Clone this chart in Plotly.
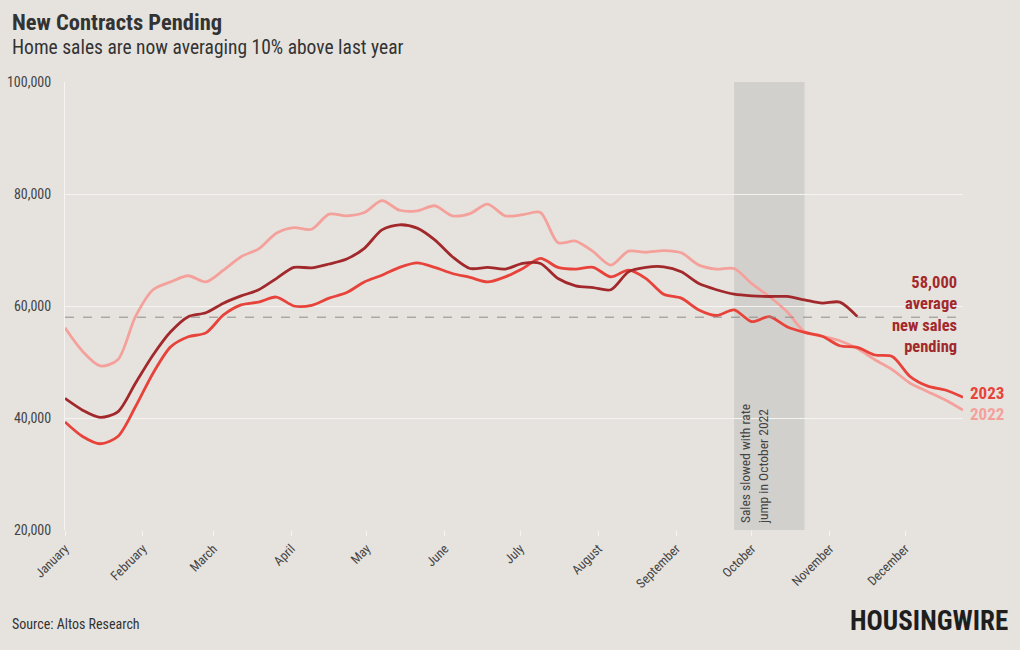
import pandas as pd
import plotly.graph_objects as go

# ---- data (thousands of pending contracts, weekly) ----
weeks = pd.date_range("2023-01-01", periods=52, freq="7D")

y2022 = [56.1, 51.9, 49.3, 50.4, 58.1, 62.9, 64.3, 65.4, 64.3, 66.4, 68.8, 70.2,
         73.0, 74.0, 73.7, 76.4, 76.1, 76.7, 78.8, 77.1, 77.0, 77.9, 76.1, 76.5,
         78.2, 76.1, 76.3, 76.7, 71.3, 71.6, 69.7, 67.3, 69.8, 69.6, 69.9, 69.5,
         67.3, 66.6, 66.7, 64.0, 61.7, 59.0, 55.4, 54.6, 53.8, 52.4, 50.4, 48.6,
         46.2, 44.7, 43.2, 41.4]

y2023 = [39.3, 36.7, 35.4, 36.7, 42.0, 48.0, 52.7, 54.5, 55.2, 58.4, 60.2, 60.7,
         61.6, 60.0, 60.1, 61.4, 62.4, 64.3, 65.5, 66.9, 67.7, 66.9, 65.8, 65.1,
         64.3, 65.2, 66.7, 68.5, 66.9, 66.6, 66.9, 65.2, 66.4, 64.9, 62.1, 61.4,
         59.3, 58.3, 59.3, 57.2, 58.1, 56.3, 55.3, 54.6, 52.9, 52.6, 51.25, 50.95,
         47.4, 45.7, 45.0, 43.7]

y2024 = [43.5, 41.4, 40.1, 41.1, 46.2, 51.25, 55.4, 58.1, 58.8, 60.5, 61.8, 62.9,
         64.9, 66.9, 66.8, 67.5, 68.4, 70.3, 73.6, 74.5, 73.9, 71.8, 68.8, 66.7,
         66.9, 66.6, 67.6, 67.6, 64.9, 63.6, 63.3, 62.9, 66.1, 66.9, 67.0, 66.1,
         64.0, 62.9, 62.1, 61.8, 61.7, 61.7, 61.1, 60.5, 60.7, 58.1]

average_pending = 58000
shade_start, shade_end = "2023-09-24", "2023-10-22"
y_ticks = [20000, 40000, 60000, 80000, 100000]

# ---- styling ----
BG = "#e6e3df"
PINK = "#f5a19b"
RED = "#e8433b"
DARK = "#a2292b"
FONT = "Roboto Condensed, Liberation Sans Narrow, Arial Narrow, Roboto, sans-serif"

fig = go.Figure()

fig.add_vrect(x0=shade_start, x1=shade_end, fillcolor="#d2d0cd", opacity=1,
              line_width=0, layer="below")

for name, vals, color in [("2022", y2022, PINK), ("2023", y2023, RED), ("2024", y2024, DARK)]:
    fig.add_trace(go.Scatter(
        x=weeks[:len(vals)], y=[v * 1000 for v in vals], mode="lines", name=name,
        line=dict(color=color, width=2.8, shape="spline", smoothing=0.8),
        hoverinfo="x+y"))

fig.add_hline(y=average_pending, line=dict(color="#8f8c89", width=1, dash="dash"))

# end labels
fig.add_annotation(x=weeks[-1], y=y2023[-1] * 1000, text="<b>2023</b>", showarrow=False,
                   xanchor="left", xshift=5, yshift=4, font=dict(color=RED, size=17, family=FONT))
fig.add_annotation(x=weeks[-1], y=y2022[-1] * 1000, text="<b>2022</b>", showarrow=False,
                   xanchor="left", xshift=5, yshift=-4, font=dict(color=PINK, size=17, family=FONT))

fig.add_annotation(x=0.995, xref="paper", y=average_pending, yref="y", yshift=3,
                   text="<b>58,000<br>average<br>new sales<br>pending</b>", showarrow=False,
                   xanchor="right", yanchor="middle", align="right",
                   font=dict(color=DARK, size=16.5, family=FONT))

fig.add_annotation(x=shade_start, y=20000, text="Sales slowed with rate<br>jump in October 2022",
                   textangle=-90, showarrow=False, xanchor="left", yanchor="bottom",
                   xshift=1, yshift=4, align="left",
                   font=dict(color="#444444", size=13.5, family=FONT))

# titles / source / logo
fig.add_annotation(x=-0.0612, xref="paper", y=1.134, yref="paper", text="<b>New Contracts Pending</b>",
                   showarrow=False, xanchor="left", yanchor="middle",
                   font=dict(color="#333333", size=22.5, family=FONT))
fig.add_annotation(x=-0.0612, xref="paper", y=1.078, yref="paper",
                   text="Home sales are now averaging 10% above last year",
                   showarrow=False, xanchor="left", yanchor="middle",
                   font=dict(color="#333333", size=19.5, family=FONT))
fig.add_annotation(x=-0.0612, xref="paper", y=-0.21, yref="paper", text="Source: Altos Research",
                   showarrow=False, xanchor="left", yanchor="middle",
                   font=dict(color="#333333", size=14, family=FONT))
fig.add_annotation(x=1.052, xref="paper", y=-0.203, yref="paper", text="<b>HOUSINGWIRE</b>",
                   showarrow=False, xanchor="right", yanchor="middle",
                   font=dict(color="#1e1e1e", size=27, family=FONT))

fig.update_layout(
    width=1020, height=650,
    margin=dict(l=65, r=57, t=82, b=120),
    paper_bgcolor=BG, plot_bgcolor=BG,
    showlegend=False,
    font=dict(family=FONT, color="#444444", size=14),
    xaxis=dict(type="date", range=[weeks[0], weeks[-1]], tickformat="%B", dtick="M1",
               tick0="2023-01-01", tickangle=-45, showgrid=False, ticks="outside",
               ticklen=5, tickcolor="#f5f4f2", zeroline=False, automargin=False,
               tickfont=dict(size=13, color="#444444")),
    yaxis=dict(range=[20000, 100000], tickvals=y_ticks, tickformat=",", gridcolor="#f5f4f2",
               gridwidth=1, showline=True, linecolor="#f5f4f2", linewidth=1, zeroline=False,
               ticks="", ticklabelstandoff=10, automargin=False,
               tickfont=dict(size=14, color="#444444")),
)

fig.write_html("out.html")
